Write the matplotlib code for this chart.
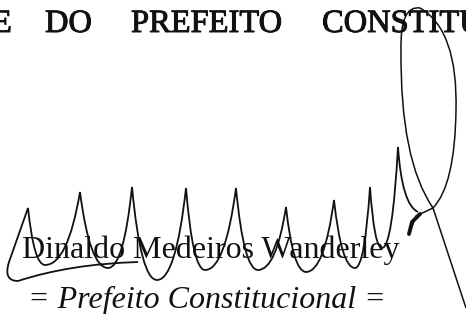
import matplotlib
matplotlib.use("Agg")
import matplotlib.pyplot as plt
from matplotlib.path import Path
from matplotlib.patches import PathPatch
import matplotlib.patheffects as pe

# text of the scanned page
top_words = ["E", "DO", "PREFEITO", "CONSTITUCIONAL"]
top_words_x = [-8, 45, 131, 322]
name_text = "Dinaldo Medeiros Wanderley"
title_text = "= Prefeito Constitucional ="

# signature: cusps (peaks) and round bottoms (valleys), in pixels
peaks_x = [28, 80, 132, 186, 236, 286, 334, 370, 398]
peaks_y = [208, 192, 187, 188, 188, 207, 200, 187, 147]
valleys_x = [45, 108, 157, 205, 258, 306, 355, 382]
valleys_y = [265, 268, 280, 270, 270, 272, 268, 248]

# opening swoosh under "Dinaldo" and the closing loop
swoosh = [(138, 262), (70, 264), (18, 281), (3, 281), (9, 262)]
tail = [(402, 205), (418, 212)]
loop = [(410, 232), (416, 216), (433, 208), (455, 185), (456, 110),
        (458, 30), (420, 8), (400, 5), (401, 50), (400, 160), (433, 208),
        (466, 308)]
blob = [(420, 214), (412, 222), (409, 234)]

fig = plt.figure(figsize=(4.66, 3.14), dpi=100)
ax = fig.add_axes([0, 0, 1, 1])
ax.set_xlim(0, 466)
ax.set_ylim(314, 0)
ax.axis("off")

ink = "#111111"
serif = ["Liberation Serif", "DejaVu Serif"]
heavy = [pe.withStroke(linewidth=0.7, foreground=ink)]

for word, x in zip(top_words, top_words_x):
    ax.text(x, 32, word, fontsize=23.4, family=serif, color=ink,
            va="baseline", ha="left", path_effects=heavy)

ax.text(22, 258, name_text, fontsize=23, family=serif, color=ink,
        va="baseline", ha="left")
ax.text(28, 308, title_text, fontsize=23, family=serif, style="italic",
        color=ink, va="baseline", ha="left")

# main stroke of the signature
verts = list(swoosh[:1])
codes = [Path.MOVETO]
verts += [swoosh[1], swoosh[2], swoosh[3], swoosh[4]]
codes += [Path.CURVE3] * 4
verts.append((peaks_x[0], peaks_y[0]))
codes.append(Path.LINETO)
bend = 0.35
for i in range(len(valleys_x)):
    px, py = peaks_x[i], peaks_y[i]
    vx, vy = valleys_x[i], valleys_y[i]
    nx, ny = peaks_x[i + 1], peaks_y[i + 1]
    verts += [(px + bend * (vx - px), vy), (vx, vy)]
    codes += [Path.CURVE3] * 2
    verts += [(nx - bend * (nx - vx), vy), (nx, ny)]
    codes += [Path.CURVE3] * 2
verts += tail
codes += [Path.CURVE3] * 2
ax.add_patch(PathPatch(Path(verts, codes), fill=False, lw=1.3, color=ink))

loop_codes = [Path.MOVETO, Path.LINETO, Path.LINETO] + [Path.CURVE3] * 8 + [Path.LINETO]
ax.add_patch(PathPatch(Path(loop, loop_codes), fill=False, lw=1.1, color=ink))

bx, by = zip(*blob)
ax.plot(bx, by, color=ink, lw=2.8, solid_capstyle="round")

fig.savefig("out.png", dpi=100, facecolor="white")
